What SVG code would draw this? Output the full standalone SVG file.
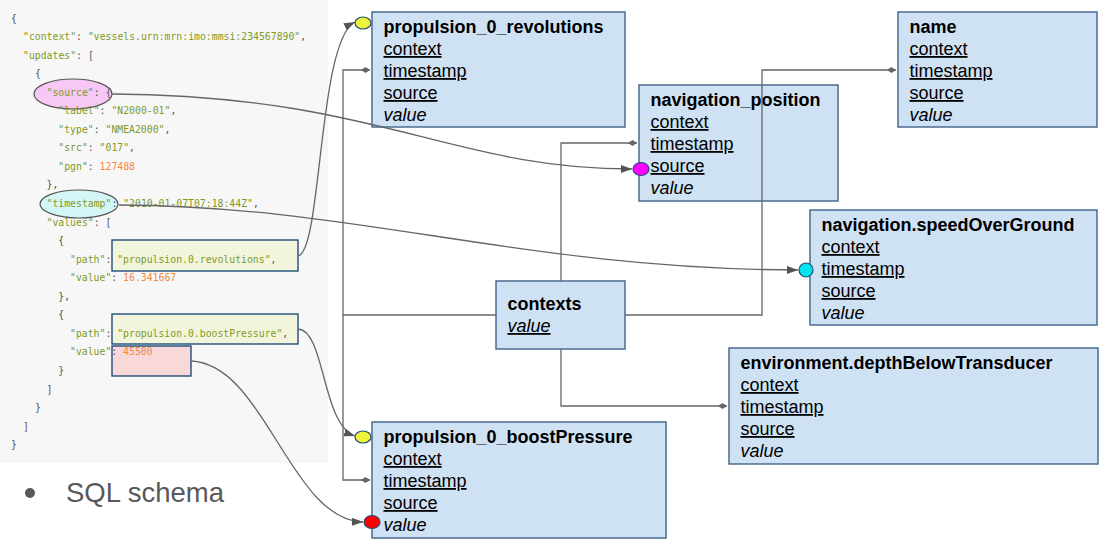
<svg xmlns="http://www.w3.org/2000/svg" width="1103" height="539" viewBox="0 0 1103 539">
<style>
.code{font-family:"DejaVu Sans Mono",monospace;font-size:9.8px;fill:#555}
.s{fill:#7f9a1e}
.n{fill:#f0883e}
.box{fill:#cfe2f3;stroke:#41618a;stroke-width:1.4}
.t{font-family:"Liberation Sans",Arial,sans-serif;font-size:18px;fill:#000}
.b{font-weight:bold}
.u{text-decoration:underline}
.i{font-style:italic}
.conn{fill:none;stroke:#666;stroke-width:1.3}
.hl{stroke:#1f4e79;stroke-width:1.4}
</style>
<defs>
<marker id="arr" markerUnits="userSpaceOnUse" markerWidth="12" markerHeight="9" refX="11" refY="4" orient="auto">
<path d="M0,0 L11,4 L0,8 z" fill="#555"/>
</marker>
<marker id="dia" markerUnits="userSpaceOnUse" markerWidth="10" markerHeight="7" refX="9" refY="3" orient="auto">
<path d="M0,3 L4.5,0 L9,3 L4.5,6 z" fill="#666"/>
</marker>
</defs>
<rect width="1103" height="539" fill="#fff"/>
<g id="json">
<rect x="0" y="0" width="328" height="463" fill="#f7f7f7"/>
<ellipse cx="73" cy="94" rx="39" ry="15" fill="#f7c8f5" stroke="#555" stroke-width="1.2"/>
<ellipse cx="79" cy="204" rx="39" ry="14" fill="#d4f6f7" stroke="#555" stroke-width="1.2"/>
<rect x="112" y="240" width="186" height="31" fill="#f2f5dc" class="hl"/>
<rect x="112" y="314" width="186" height="30" fill="#f2f5dc" class="hl"/>
<rect x="112" y="346" width="79" height="30" fill="#f8d8d8" class="hl"/>
<text class="code" x="11" y="21.5">{</text>
<text class="code" x="23" y="40"><tspan class="s">"context"</tspan>: <tspan class="s">"vessels.urn:mrn:imo:mmsi:234567890"</tspan>,</text>
<text class="code" x="23" y="58.6"><tspan class="s">"updates"</tspan>: [</text>
<text class="code" x="35" y="77.1">{</text>
<text class="code" x="46.5" y="95.7"><tspan class="s">"source"</tspan>: {</text>
<text class="code" x="58.3" y="114.2"><tspan class="s">"label"</tspan>: <tspan class="s">"N2000-01"</tspan>,</text>
<text class="code" x="58.3" y="132.8"><tspan class="s">"type"</tspan>: <tspan class="s">"NMEA2000"</tspan>,</text>
<text class="code" x="58.3" y="151.3"><tspan class="s">"src"</tspan>: <tspan class="s">"017"</tspan>,</text>
<text class="code" x="58.3" y="169.9"><tspan class="s">"pgn"</tspan>: <tspan class="n">127488</tspan></text>
<text class="code" x="46.5" y="188.4">},</text>
<text class="code" x="46.5" y="207"><tspan class="s">"timestamp"</tspan>: <tspan class="s">"2010-01-07T07:18:44Z"</tspan>,</text>
<text class="code" x="46.5" y="225.5"><tspan class="s">"values"</tspan>: [</text>
<text class="code" x="58.3" y="244.1">{</text>
<text class="code" x="70" y="262.6"><tspan class="s">"path"</tspan>: <tspan class="s">"propulsion.0.revolutions"</tspan>,</text>
<text class="code" x="70" y="281.2"><tspan class="s">"value"</tspan>: <tspan class="n">16.341667</tspan></text>
<text class="code" x="58.3" y="299.7">},</text>
<text class="code" x="58.3" y="318.3">{</text>
<text class="code" x="70" y="336.8"><tspan class="s">"path"</tspan>: <tspan class="s">"propulsion.0.boostPressure"</tspan>,</text>
<text class="code" x="70" y="355.4"><tspan class="s">"value"</tspan>: <tspan class="n">45500</tspan></text>
<text class="code" x="58.3" y="373.9">}</text>
<text class="code" x="46.5" y="392.5">]</text>
<text class="code" x="35" y="411">}</text>
<text class="code" x="23" y="429.6">]</text>
<text class="code" x="11" y="448.1">}</text>
</g>
<g id="caption">
<circle cx="30" cy="493" r="5" fill="#595959"/>
<text x="66" y="502" font-family="Liberation Sans, Arial, sans-serif" font-size="27.5" fill="#595959">SQL schema</text>
</g>
<g id="propulsion_0_revolutions">
<rect class="box" x="372" y="12" width="253" height="115"/>
<text class="t b" x="383.5" y="33">propulsion_0_revolutions</text>
<text class="t u" x="383.5" y="55">context</text>
<text class="t u" x="383.5" y="77">timestamp</text>
<text class="t u" x="383.5" y="99">source</text>
<text class="t i" x="383.5" y="121">value</text>
</g>
<g id="navigation_position">
<rect class="box" x="639" y="85" width="199" height="116"/>
<text class="t b" x="650.5" y="106">navigation_position</text>
<text class="t u" x="650.5" y="128">context</text>
<text class="t u" x="650.5" y="150">timestamp</text>
<text class="t u" x="650.5" y="172">source</text>
<text class="t i" x="650.5" y="194">value</text>
</g>
<g id="name">
<rect class="box" x="898" y="12" width="199" height="115"/>
<text class="t b" x="909.5" y="33">name</text>
<text class="t u" x="909.5" y="55">context</text>
<text class="t u" x="909.5" y="77">timestamp</text>
<text class="t u" x="909.5" y="99">source</text>
<text class="t i" x="909.5" y="121">value</text>
</g>
<g id="navigation_speedOverGround">
<rect class="box" x="810" y="210" width="287" height="115"/>
<text class="t b" x="821.5" y="231">navigation.speedOverGround</text>
<text class="t u" x="821.5" y="253">context</text>
<text class="t u" x="821.5" y="275">timestamp</text>
<text class="t u" x="821.5" y="297">source</text>
<text class="t i" x="821.5" y="319">value</text>
</g>
<g id="contexts">
<rect class="box" x="496" y="281" width="129" height="68"/>
<text class="t b" x="507.5" y="310">contexts</text>
<text class="t i u" x="507.5" y="332">value</text>
</g>
<g id="environment_depthBelowTransducer">
<rect class="box" x="729" y="348" width="369" height="116"/>
<text class="t b" x="740.5" y="369">environment.depthBelowTransducer</text>
<text class="t u" x="740.5" y="391">context</text>
<text class="t u" x="740.5" y="413">timestamp</text>
<text class="t u" x="740.5" y="435">source</text>
<text class="t i" x="740.5" y="457">value</text>
</g>
<g id="propulsion_0_boostPressure">
<rect class="box" x="372" y="422" width="294" height="116"/>
<text class="t b" x="383.5" y="443">propulsion_0_boostPressure</text>
<text class="t u" x="383.5" y="465">context</text>
<text class="t u" x="383.5" y="487">timestamp</text>
<text class="t u" x="383.5" y="509">source</text>
<text class="t i" x="383.5" y="531">value</text>
</g>
<g id="connectors">
<path class="conn" d="M496,315 H343"/>
<path class="conn" d="M343,315 V70 H370" marker-end="url(#dia)"/>
<path class="conn" d="M343,315 V480 H370" marker-end="url(#dia)"/>
<path class="conn" d="M561,281 V143 H637" marker-end="url(#dia)"/>
<path class="conn" d="M561,349 V406 H727" marker-end="url(#dia)"/>
<path class="conn" d="M625,315 H762 V70 H896" marker-end="url(#dia)"/>
<path class="conn" d="M112,94 C380,96 450,169 632,169" marker-end="url(#arr)"/>
<path class="conn" d="M119,205 C360,206 520,269 798,270" marker-end="url(#arr)"/>
<path class="conn" d="M298,256 C322,252 318,40 355,22" marker-end="url(#arr)"/>
<path class="conn" d="M298,329 C325,330 322,425 355,436" marker-end="url(#arr)"/>
<path class="conn" d="M191,361 C265,364 290,520 363,522" marker-end="url(#arr)"/>
<ellipse cx="363" cy="23" rx="8" ry="6" fill="#eef23a" stroke="#1f4e79" stroke-width="1.2"/>
<ellipse cx="363" cy="437" rx="8" ry="6" fill="#eef23a" stroke="#1f4e79" stroke-width="1.2"/>
<ellipse cx="372" cy="522" rx="8" ry="6.5" fill="#ff0000" stroke="#1f4e79" stroke-width="1.2"/>
<ellipse cx="641" cy="169" rx="8" ry="6.5" fill="#ff00ff" stroke="#1f4e79" stroke-width="1.2"/>
<ellipse cx="806" cy="270" rx="7" ry="7" fill="#00e5f0" stroke="#1f4e79" stroke-width="1.2"/>
</g>
</svg>
